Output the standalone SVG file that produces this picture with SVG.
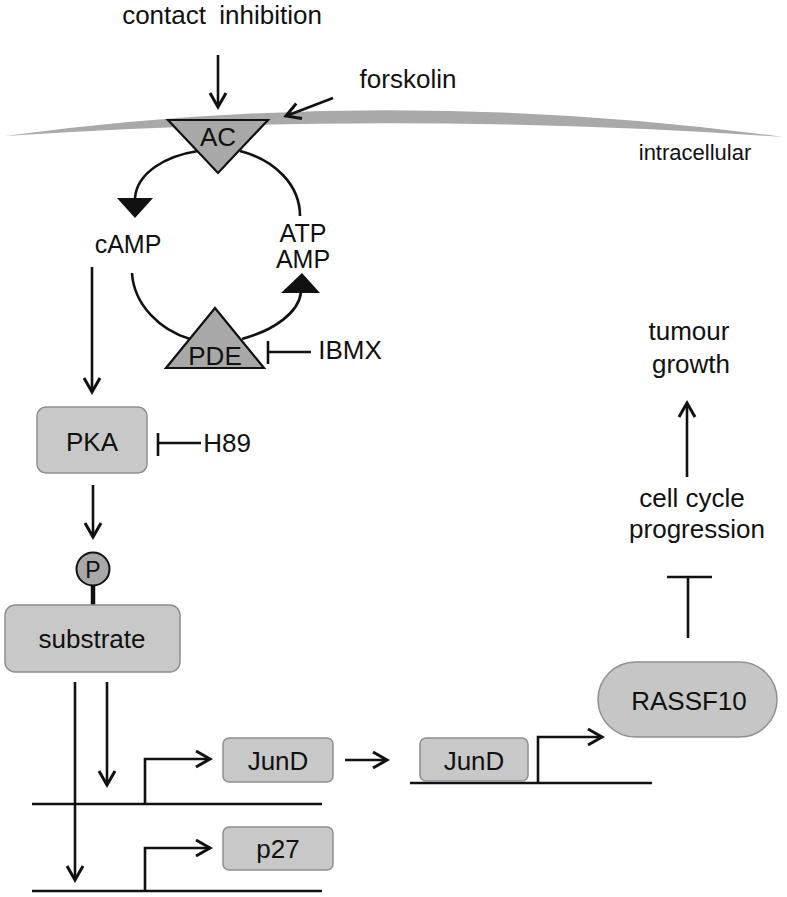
<svg xmlns="http://www.w3.org/2000/svg" width="787" height="897" viewBox="0 0 787 897">
<defs>
<style>
text{font-family:"Liberation Sans",Arial,sans-serif;font-size:26px;fill:#111;}
.c{text-anchor:middle;}
.ln{stroke:#111;stroke-width:2.6;fill:none;}
.box{fill:#c8c8c8;stroke:#8f8f8f;stroke-width:1.5;}
.tri{fill:#a8a8a8;stroke:#111;stroke-width:2.2;stroke-linejoin:miter;}
</style>
<marker id="arr" markerUnits="userSpaceOnUse" markerWidth="20" markerHeight="20" refX="16" refY="9" orient="auto" overflow="visible">
<path d="M2,1 L16,9 L2,17" fill="none" stroke="#111" stroke-width="3"/>
</marker>
</defs>
<rect width="787" height="897" fill="#fff"/>

<g id="membrane">
<path d="M5,136 Q390,84 783,137 Q390,110 5,136 Z" fill="#a9a9a9"/>
<text x="695" y="160" class="c" style="font-size:22px">intracellular</text>
</g>

<g id="connectors">
<line class="ln" x1="218" y1="55" x2="218" y2="107" marker-end="url(#arr)"/>
<line class="ln" x1="333" y1="98" x2="286" y2="116" marker-end="url(#arr)"/>
<path class="ln" d="M198,151 C165,156 137,173 135,198"/>
<polygon points="117,198 153,198 135,218" fill="#111"/>
<path class="ln" d="M240,151 C275,160 300,185 300,216"/>
<path class="ln" d="M132,273 C134,305 160,330 190,339"/>
<path class="ln" d="M242,339 C275,330 299,312 301,292"/>
<polygon points="281,293 320,293 302,273" fill="#111"/>
<line class="ln" x1="92" y1="267" x2="92" y2="392" marker-end="url(#arr)"/>
<line class="ln" x1="268" y1="352" x2="311" y2="352"/>
<line class="ln" x1="268" y1="341" x2="268" y2="364"/>
<line class="ln" x1="158" y1="443" x2="201" y2="443"/>
<line class="ln" x1="158" y1="433" x2="158" y2="456"/>
<line class="ln" x1="93" y1="485" x2="93" y2="537" marker-end="url(#arr)"/>
<line x1="93" y1="585" x2="93" y2="606" stroke="#111" stroke-width="4.5"/>
<line class="ln" x1="75" y1="682" x2="75" y2="880" marker-end="url(#arr)"/>
<line class="ln" x1="107" y1="682" x2="107" y2="785" marker-end="url(#arr)"/>
<line class="ln" x1="32" y1="804" x2="322" y2="804"/>
<path class="ln" d="M145,804 V759 H210" marker-end="url(#arr)"/>
<line class="ln" x1="32" y1="891" x2="322" y2="891"/>
<path class="ln" d="M145,891 V848 H210" marker-end="url(#arr)"/>
<line class="ln" x1="345" y1="760" x2="387" y2="760" marker-end="url(#arr)"/>
<line class="ln" x1="410" y1="783" x2="652" y2="783"/>
<path class="ln" d="M538,783 V737 H602" marker-end="url(#arr)"/>
<line class="ln" x1="688" y1="638" x2="688" y2="577"/>
<line class="ln" x1="667" y1="577" x2="712" y2="577"/>
<line class="ln" x1="687" y1="477" x2="687" y2="403" marker-end="url(#arr)"/>
</g>

<g id="contact-inhibition"><text x="222" y="24" class="c" style="word-spacing:6px">contact inhibition</text></g>
<g id="forskolin"><text x="408" y="88" class="c">forskolin</text></g>
<g id="AC">
<polygon class="tri" points="168,120 268,120 218,173"/>
<text x="218" y="146" class="c">AC</text>
</g>
<g id="cAMP"><text x="128" y="253" class="c" style="font-size:25px">cAMP</text></g>
<g id="ATP-AMP">
<text x="303" y="242" class="c" style="font-size:25px">ATP</text>
<text x="303" y="268" class="c" style="font-size:25px">AMP</text>
</g>
<g id="PDE">
<polygon class="tri" points="215,308 264,368 166,368"/>
<text x="215" y="365" class="c">PDE</text>
</g>
<g id="IBMX"><text x="350" y="359" class="c">IBMX</text></g>
<g id="PKA">
<rect class="box" x="37" y="407" width="110" height="66" rx="9"/>
<text x="92" y="451" class="c">PKA</text>
</g>
<g id="H89"><text x="227" y="452" class="c">H89</text></g>
<g id="P">
<circle cx="93" cy="569" r="16.5" fill="#a8a8a8" stroke="#111" stroke-width="2"/>
<text x="93" y="578" class="c" style="font-size:23px">P</text>
</g>
<g id="substrate">
<rect class="box" x="5" y="605" width="175" height="67" rx="10"/>
<text x="92" y="648" class="c">substrate</text>
</g>
<g id="JunD-1">
<rect class="box" x="223" y="738" width="110" height="44" rx="6"/>
<text x="278" y="770" class="c">JunD</text>
</g>
<g id="p27">
<rect class="box" x="223" y="827" width="110" height="43" rx="6"/>
<text x="278" y="858" class="c">p27</text>
</g>
<g id="JunD-2">
<rect class="box" x="420" y="738" width="108" height="43" rx="6"/>
<text x="474" y="770" class="c">JunD</text>
</g>
<g id="RASSF10">
<rect x="598" y="662" width="179" height="75" rx="37.5" fill="#c6c6c6" stroke="#8f8f8f" stroke-width="1.5"/>
<text x="689" y="710" class="c">RASSF10</text>
</g>
<g id="cell-cycle">
<text x="692" y="507" class="c">cell cycle</text>
<text x="697" y="538" class="c">progression</text>
</g>
<g id="tumour-growth">
<text x="689" y="340" class="c">tumour</text>
<text x="691" y="373" class="c">growth</text>
</g>
</svg>
